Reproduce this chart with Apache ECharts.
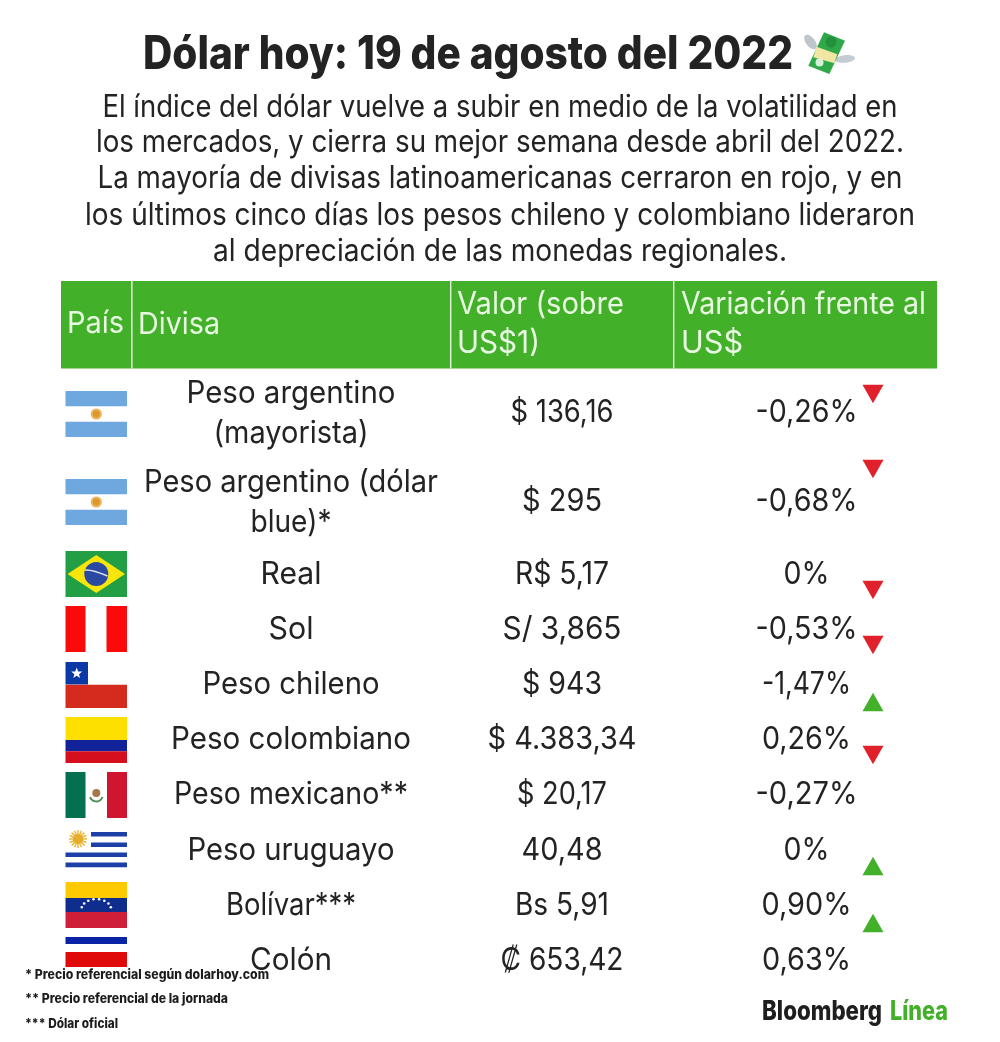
<!DOCTYPE html>
<html><head><meta charset="utf-8">
<style>html,body{margin:0;padding:0;background:#fff}#c{width:1000px;height:1042px}</style>
<script src="https://cdn.jsdelivr.net/npm/echarts@6/dist/echarts.min.js"></script>
</head><body><div id="c"></div>
<script>
// ---- data ----
var titleText = 'Dólar hoy: 19 de agosto del 2022';
var introLines = [
 'El índice del dólar vuelve a subir en medio de la volatilidad en',
 'los mercados, y cierra su mejor semana desde abril del 2022.',
 'La mayoría de divisas latinoamericanas cerraron en rojo, y en',
 'los últimos cinco días los pesos chileno y colombiano lideraron',
 'al depreciación de las monedas regionales.'
];
var headers = [['País'],['Divisa'],['Valor (sobre','US$1)'],['Variación frente al','US$']];
var flags = ['ar','ar','br','pe','cl','co','mx','uy','ve','cr'];
var currencies = [['Peso argentino','(mayorista)'],['Peso argentino (dólar','blue)*'],['Real'],['Sol'],['Peso chileno'],['Peso colombiano'],['Peso mexicano**'],['Peso uruguayo'],['Bolívar***'],['Colón']];
var values = ['$ 136,16','$ 295','R$ 5,17','S/ 3,865','$ 943','$ 4.383,34','$ 20,17','40,48','Bs 5,91','₡ 653,42'];
var variations = ['-0,26%','-0,68%','0%','-0,53%','-1,47%','0,26%','-0,27%','0%','0,90%','0,63%'];
var trianglesUp = [0,0,0,0,1,0,1,1];
var footnotes = ['* Precio referencial según dolarhoy.com','** Precio referencial de la jornada','*** Dólar oficial'];
var logoWords = ['Bloomberg','Línea'];

// ---- layout ----
var rowY = [411,500,573,628,683,738,793,849,904,959];
var flagY = [391,479,551,606,662,717,772,827,882,937];
var triY = [394,469,590,645,702,755,866,923];
var introY = [106,141,177,214,250];
var introW = [795,808,805,830,574];
var currW = [[209,155],[294,81],[61],[45],[177],[240],[234],[207],[130],[82]];
var valueW = [103,80,94,119,80,149,90,81,94,123];
var varW = [102,102,46,102,89,89,102,46,90,89];
var DARK='#232323', GREEN='#43b02a', RED='#e0202a', HEAD='#e9f8e2';
var FF='Inter,"Liberation Sans",Arial,sans-serif';
var ctx=document.createElement('canvas').getContext('2d');
function fit(s,font,w){ctx.font=font;return w/ctx.measureText(s).width;}

var texts=[];
function T(s,x,y,size,opt){opt=opt||{};var f=(opt.bold?'800 ':'')+size+'px '+FF;
  texts.push({s:s,x:x,y:y+size*0.03+0.8,font:f,fill:opt.fill||DARK,align:opt.align||'center',sx:opt.w?fit(s,f,opt.w):1});}
T(titleText,468,53,46,{bold:true,w:650});
introLines.forEach(function(l,i){T(l,500,introY[i],31,{w:introW[i]});});
T(headers[0][0],67,322,30,{fill:HEAD,align:'left',w:57});
T(headers[1][0],138,323,30,{fill:HEAD,align:'left',w:82});
T(headers[2][0],457,303,31,{fill:HEAD,align:'left',w:167});
T(headers[2][1],457,342,31,{fill:HEAD,align:'left',w:83});
T(headers[3][0],681,303,31,{fill:HEAD,align:'left',w:245});
T(headers[3][1],681,342,31,{fill:HEAD,align:'left',w:62});
currencies.forEach(function(c,i){
  if(c.length==2){T(c[0],291,rowY[i]-19.5,31,{w:currW[i][0]});T(c[1],291,rowY[i]+20.5,31,{w:currW[i][1]});}
  else T(c[0],291,rowY[i],31,{w:currW[i][0]});
});
values.forEach(function(v,i){T(v,562,rowY[i],31,{w:valueW[i]});});
variations.forEach(function(v,i){T(v,806.5,rowY[i],31,{w:varW[i]});});
footnotes.forEach(function(f,i){T(f,25,[974,998,1023][i],13,{bold:true,align:'left',w:[244,203,93][i],fill:'#1c1c1c'});});
T(logoWords[0],762,1010,27,{bold:true,align:'left',w:120,fill:'#1e1e1e'});
T(logoWords[1],890,1010,27,{bold:true,align:'left',w:58,fill:GREEN});

function r(x,y,w,h,c){return {type:'rect',shape:{x:x,y:y,width:w,height:h},style:{fill:c}};}
function poly(pts,c){return {type:'polygon',shape:{points:pts},style:{fill:c}};}
function circ(cx,cy,rr,c){return {type:'circle',shape:{cx:cx,cy:cy,r:rr},style:{fill:c}};}
function star(cx,cy,R,c){var p=[];for(var i=0;i<10;i++){var a=-Math.PI/2+i*Math.PI/5,q=i%2?R*0.42:R;p.push([cx+q*Math.cos(a),cy+q*Math.sin(a)]);}return poly(p,c);}
var W=61.5,H=46;
function flagShapes(k){
  switch(k){
   case 'ar':return [r(0,0,W,15.2,'#6fa8de'),r(0,30.8,W,15.2,'#6fa8de'),circ(30.8,23,5.6,'#eeb25a'),circ(30.8,23,3.4,'#dc9a2c')];
   case 'br':return [r(0,0,W,H,'#229e45'),poly([[2,23],[30.8,4],[59.5,23],[30.8,42]],'#f8e509'),circ(30.8,23,12,'#2b49a3'),
      {type:'bezierCurve',shape:{x1:19.5,y1:19,x2:42,y2:25,cpx1:27,cpy1:18.5},style:{stroke:'#dfe8ee',lineWidth:1.6,fill:'none'}}];
   case 'pe':return [r(0,0,20,H,'#fb0a0a'),r(41,0,20.5,H,'#fb0a0a')];
   case 'cl':return [r(0,0,22.5,22.5,'#0a39a5'),r(0,22.8,W,23.2,'#d52b1e'),star(11.2,11.4,5.8,'#fff')];
   case 'co':return [r(0,0,W,23,'#fde000'),r(0,23,W,11.3,'#12239a'),r(0,34.3,W,11.7,'#d60f1e')];
   case 'mx':return [r(0,0,20,H,'#03704f'),r(41.5,0,20,H,'#cf1530'),circ(30.8,21,4,'#a5794a'),{type:'arc',shape:{cx:30.8,cy:23,r:6.5,startAngle:0.3,endAngle:2.84},style:{stroke:'#4f8a50',lineWidth:1.8,fill:'none'}}];
   case 'uy':var o=[r(25.5,5,36,4.6,'#1c3fa8'),r(25.5,15.4,36,4.6,'#1c3fa8'),r(0,25.5,W,4.6,'#1c3fa8'),r(0,35.6,W,4.6,'#1c3fa8')];
      for(var i=0;i<16;i++){var a=i*Math.PI/8;o.push({type:'line',shape:{x1:12.5,y1:12,x2:12.5+9*Math.cos(a),y2:12+9*Math.sin(a)},style:{stroke:'#e9b93c',lineWidth:1.5}});}
      o.push(circ(12.5,12,5,'#e5ad2e'));return o;
   case 've':var v=[r(0,0,W,16,'#ffcb00'),r(0,16,W,14,'#0f2d8c'),r(0,30,W,16,'#cf1f38')];
      for(var j=0;j<8;j++){var b=Math.PI*(1.08+j*0.84/7);v.push(circ(30.8+15*Math.cos(b),28+11*Math.sin(b),1.3,'#fff'));}return v;
   case 'cr':return [r(0,0,W,7,'#0a24a8'),r(0,15,W,15,'#e00a0a')];
  }
  return [];
}

var dom=document.getElementById('c');
var chart=echarts.init(dom,null,{renderer:'canvas',width:1000,height:1042});
var money=[
 {type:'ellipse',shape:{cx:0,cy:0,rx:4.5,ry:8.5},x:810.5,y:42,rotation:0.65,style:{fill:'#bcc6cc'}},
 {type:'ellipse',shape:{cx:0,cy:0,rx:10,ry:3.8},x:845,y:59,rotation:0.1,style:{fill:'#c3ccd2'}},
 poly([[824,32.3],[845,40.7],[829.3,74],[808.3,65.7]],'#2fa84a'),
 circ(831,42,5.5,'#23903c'),
 poly([[816.7,46.7],[837.3,54.3],[834.3,63.3],[813.3,57.3]],'#f2e6a4'),
 circ(819.5,62.5,4,'#d8f0da')
];
chart.setOption({
 animation:false,backgroundColor:'#fff',
 grid:{left:0,right:0,top:0,bottom:0},
 xAxis:{type:'value',min:0,max:1000,show:false},
 yAxis:{type:'value',min:0,max:1042,inverse:true,show:false},
 graphic:{elements:[{type:'group',silent:true,children:money}]},
 series:[
  {type:'custom',coordinateSystem:'cartesian2d',silent:true,z:1,data:[[61,281]],encode:{x:0,y:1},
   renderItem:function(p,api){var o=api.coord([61,281]);
     return {type:'group',x:o[0],y:o[1],children:[r(0,0,876,87.5,GREEN),r(70,0,1.6,87.5,'#dff3d7'),r(389,0,1.4,87.5,'#dff3d7'),r(612,0,1.4,87.5,'#dff3d7')]};}},
  {type:'custom',coordinateSystem:'cartesian2d',silent:true,z:2,data:flags.map(function(f,i){return [65.5,flagY[i]];}),encode:{x:0,y:1},
   renderItem:function(p,api){var o=api.coord([api.value(0),api.value(1)]);
     return {type:'group',x:o[0],y:o[1],children:flagShapes(flags[p.dataIndex])};}},
  {type:'scatter',z:3,silent:true,symbol:'triangle',symbolSize:[21,18.5],
   data:trianglesUp.map(function(u,i){return {value:[873,triY[i]],symbolRotate:u?0:180,itemStyle:{color:u?GREEN:RED,opacity:1}};})},
  {type:'custom',coordinateSystem:'cartesian2d',silent:true,z:4,data:texts.map(function(t){return [t.x,t.y];}),encode:{x:0,y:1},
   renderItem:function(p,api){var t=texts[p.dataIndex],o=api.coord([t.x,t.y]);
     return {type:'text',x:o[0],y:o[1],scaleX:t.sx,style:{text:t.s,x:0,y:0,font:t.font,fill:t.fill,align:t.align,verticalAlign:'middle'}};}}
 ]
});
</script></body></html>
